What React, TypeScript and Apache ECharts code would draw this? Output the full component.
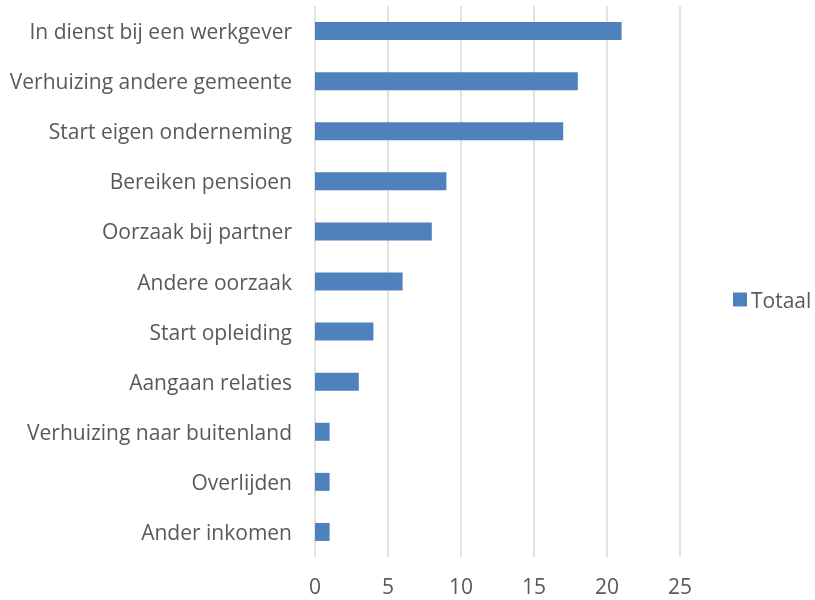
import React, { useEffect, useRef } from "react";
import * as echarts from "echarts";

const categories = [
  "In dienst bij een werkgever",
  "Verhuizing andere gemeente",
  "Start eigen onderneming",
  "Bereiken pensioen",
  "Oorzaak bij partner",
  "Andere oorzaak",
  "Start opleiding",
  "Aangaan relaties",
  "Verhuizing naar buitenland",
  "Overlijden",
  "Ander inkomen",
];
const totaal = [21, 18, 17, 9, 8, 6, 4, 3, 1, 1, 1];
const seriesName = "Totaal";

export default function App() {
  const ref = useRef<HTMLDivElement>(null);
  useEffect(() => {
    const chart = echarts.init(ref.current!, undefined, { renderer: "svg" });
    const font = "'Open Sans', 'Liberation Sans', sans-serif";
    chart.setOption({
      animation: false,
      textStyle: { fontFamily: font },
      grid: { left: 315, right: 135, top: 6, bottom: 43, containLabel: false },
      legend: {
        data: [seriesName],
        orient: "vertical",
        left: 733,
        top: 289,
        padding: 0,
        itemWidth: 14,
        itemHeight: 14,
        itemGap: 5,
        icon: "rect",
        textStyle: { color: "#595959", fontSize: 21, fontFamily: font, padding: [0, 0, 0, -1] },
      },
      xAxis: {
        type: "value",
        min: 0,
        max: 25,
        interval: 5,
        axisLine: { show: false },
        axisTick: { show: false },
        axisLabel: { color: "#595959", fontSize: 21, margin: 18, fontFamily: font },
        splitLine: { show: true, lineStyle: { color: "#d9d9d9", width: 1.5 } },
      },
      yAxis: {
        type: "category",
        data: categories,
        inverse: true,
        axisLine: { show: false },
        axisTick: { show: false },
        axisLabel: { color: "#595959", fontSize: 21, margin: 23, fontFamily: font },
        splitLine: { show: false },
      },
      series: [
        {
          name: seriesName,
          type: "bar",
          data: totaal,
          barWidth: 18,
          itemStyle: { color: "#4f81bd" },
        },
      ],
    });
    return () => chart.dispose();
  }, []);
  return (
    <div
      ref={ref}
      style={{ position: "fixed", left: 0, top: 0, width: 815, height: 600 }}
    />
  );
}
